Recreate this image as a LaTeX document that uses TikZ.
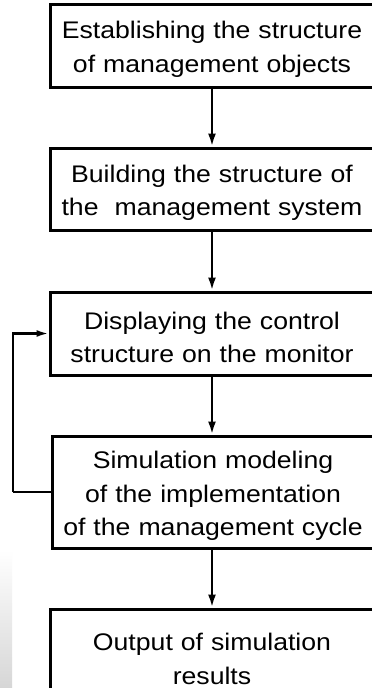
\documentclass[tikz,border=0pt]{standalone}
\usepackage{fontspec}
\setmainfont[FakeStretch=1.11]{Liberation Sans}
\usetikzlibrary{arrows.meta}
\begin{document}
\begin{tikzpicture}[x=1pt,y=-1pt,
  box/.style={draw=black, line width=3pt, fill=white, align=center, inner sep=0pt,
    font=\fontsize{24}{33.5}\selectfont, text width=322pt,
    execute at begin node={\rule{0pt}{25pt}}},
  conn/.style={line width=2.4pt, -{Latex[length=13pt,width=8pt]}},
  fb/.style={line width=2.2pt}]
\useasboundingbox (0,0) rectangle (372,688);
\clip (0,0) rectangle (372,688);
\fill[white] (0,0) rectangle (372,688);
\shade[top color=white, bottom color=black!16] (0,550) rectangle (12,688);
\node[box, minimum width=324pt, minimum height=83pt] (b1) at (212,45.5)
  {Establishing the structure\\of management objects};
\node[box, minimum width=324pt, minimum height=82pt] (b2) at (212,189)
  {Building the structure of\\the\ \ management system};
\node[box, minimum width=324pt, minimum height=83pt] (b3) at (212,333.5)
  {Displaying the control\\structure on the monitor};
\node[box, minimum width=322pt, minimum height=112pt] (b4) at (213,492)
  {Simulation modeling\\of the implementation\\of the management cycle};
\node[box, minimum width=324pt, minimum height=92pt] (b5) at (212,655)
  {Output of simulation\\results};
\draw[conn] (b1.south -| 212,0) -- (b2.north -| 212,0);
\draw[conn] (b2.south -| 212,0) -- (b3.north -| 212,0);
\draw[conn] (b3.south -| 212,0) -- (b4.north -| 212,0);
\draw[conn] (b4.south -| 212,0) -- (b5.north -| 212,0);
\coordinate (fbc) at (13,492);
\draw[fb] (b4.west) -- (fbc);
\draw[fb, -{Latex[length=12pt,width=7pt]}] (fbc) |- (b3.west);
\end{tikzpicture}
\end{document}
